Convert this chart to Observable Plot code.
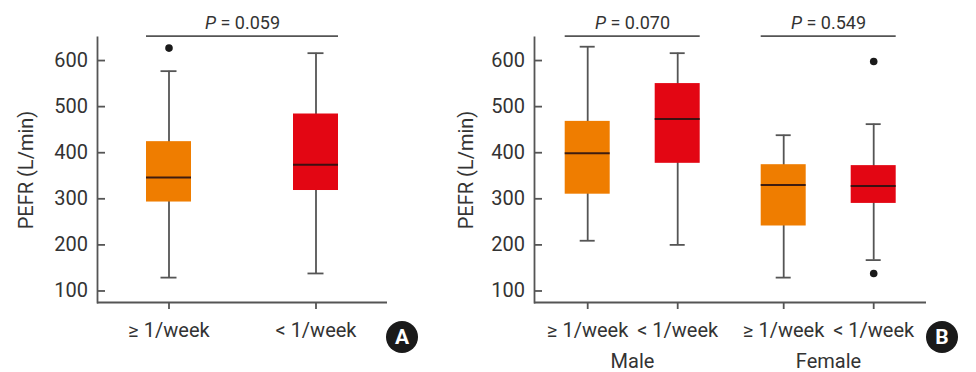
<!DOCTYPE html>
<html><head><meta charset="utf-8">
<script src="https://cdn.jsdelivr.net/npm/d3@7"></script>
<script src="https://cdn.jsdelivr.net/npm/@observablehq/plot@0.6"></script>
<style>
body{margin:0;background:#fff;font-family:Roboto,sans-serif;}
#wrap{position:relative;width:976px;height:372px;overflow:hidden;background:#fff;}
#wrap svg{position:absolute;top:0;}
.badge{position:absolute;width:32px;height:32px;border-radius:50%;background:#1a1a1a;color:#fff;font:700 21px Roboto,sans-serif;display:flex;align-items:center;justify-content:center;}
</style></head><body><div id="wrap"></div>
<script>
// ---- data ----
const freq = ["≥ 1/week", "< 1/week"];
const sexes = ["Male", "Female"];
const yTicks = [100, 200, 300, 400, 500, 600];

// Panel A (all subjects)
const aFreq = ["≥ 1/week", "< 1/week"];
const aLow  = [129, 138];
const aQ1   = [293, 318];
const aMed  = [346, 374];
const aQ3   = [424, 484];
const aHigh = [577, 616];
const aOutFreq = ["≥ 1/week"];
const aOutVal  = [627];
const aP = ["0.059"];

// Panel B (by sex)
const bSex  = ["Male", "Male", "Female", "Female"];
const bFreq = ["≥ 1/week", "< 1/week", "≥ 1/week", "< 1/week"];
const bLow  = [209, 200, 129, 167];
const bQ1   = [310, 377, 241, 290];
const bMed  = [399, 473, 330, 328];
const bQ3   = [468, 550, 374, 372];
const bHigh = [630, 616, 438, 462];
const bOutSex  = ["Female", "Female"];
const bOutFreq = ["< 1/week", "< 1/week"];
const bOutVal  = [598, 138];
const bPSex = ["Male", "Female"];
const bP = ["0.070", "0.549"];

const bracketLevel = 653;
const pLabelLevel = 681;
const yDomain = [75, 650];

// ---- tables ----
const rowsA = aFreq.map((f, i) => ({freq: f, lo: aLow[i], q1: aQ1[i], med: aMed[i], q3: aQ3[i], hi: aHigh[i]}));
const outA = aOutFreq.map((f, i) => ({freq: f, v: aOutVal[i]}));
const brA = aP.map(p => ({x1: freq[0], x2: freq[1], p}));
const rowsB = bFreq.map((f, i) => ({sex: bSex[i], freq: f, lo: bLow[i], q1: bQ1[i], med: bMed[i], q3: bQ3[i], hi: bHigh[i]}));
const outB = bOutFreq.map((f, i) => ({sex: bOutSex[i], freq: f, v: bOutVal[i]}));
const brB = bP.map((p, i) => ({sex: bPSex[i], x1: freq[0], x2: freq[1], p}));

const AX = "#555";
function marks(rows, outs, brs, fx, capInset, labelOffset) {
  const o = fx ? {fx: "sex"} : {};
  return [
    Plot.frame({anchor: "left", stroke: AX, strokeWidth: 1.8, facetAnchor: "left"}),
    Plot.ruleY([yDomain[0]], {stroke: AX, strokeWidth: 1.8}),
    Plot.axisY(yTicks, {tickSize: 8, dx: 8, fill: "none", stroke: AX, strokeWidth: 1.8, label: null}),
    Plot.axisY(yTicks, {tickSize: 0, tickPadding: 9.4, label: "PEFR (L/min)", labelAnchor: "center", labelArrow: "none", labelOffset}),
    Plot.axisX({tickSize: 7, tickPadding: 13, stroke: AX, strokeWidth: 1.8, label: null}),
    ...(fx ? [Plot.axisFx({anchor: "bottom", tickSize: 0, tickPadding: 51, label: null})] : []),
    Plot.ruleX(rows, {x: "freq", y1: "lo", y2: "hi", stroke: AX, strokeWidth: 1.8, ...o}),
    Plot.tickY(rows, {x: "freq", y: "lo", stroke: AX, strokeWidth: 1.8, insetLeft: capInset, insetRight: capInset, ...o}),
    Plot.tickY(rows, {x: "freq", y: "hi", stroke: AX, strokeWidth: 1.8, insetLeft: capInset, insetRight: capInset, ...o}),
    Plot.barY(rows, {x: "freq", y1: "q1", y2: "q3", fill: "freq", ...o}),
    Plot.tickY(rows, {x: "freq", y: "med", stroke: "#2a1212", strokeOpacity: 0.9, strokeWidth: 2, ...o}),
    Plot.dot(outs, {x: "freq", y: "v", r: 3.8, fill: "#1a1a1a", ...o}),
    Plot.ruleY(brs, {x1: "x1", x2: "x2", y: () => bracketLevel, stroke: AX, strokeWidth: 1.8, ...o}),
    Plot.text(brs, {y: () => pLabelLevel, frameAnchor: "middle", text: d => "P = " + d.p, fontSize: 18, ...o})
  ];
}

const common = {
  height: 372,
  marginTop: 37,
  marginBottom: 70,
  y: {domain: yDomain},
  color: {domain: freq, range: ["#EF7D00", "#E30613"]},
  style: {fontSize: "20px", fontFamily: "Roboto, sans-serif", color: "#333", background: "transparent", overflow: "visible"}
};

const plotA = Plot.plot({
  ...common,
  width: 420,
  marginLeft: 97,
  marginRight: 33,
  x: {domain: freq, paddingInner: 0.6945, paddingOuter: 0.329},
  marks: marks(rowsA, outA, brA, false, 14.5, 79)
});

const plotB = Plot.plot({
  ...common,
  width: 556,
  marginLeft: 113.3,
  marginRight: 49.3,
  fx: {domain: sexes, padding: 0},
  x: {domain: freq, paddingInner: 0.498, paddingOuter: 0.327},
  marks: marks(rowsB, outB, brB, true, 15, 76)
});

function italicP(svg) {
  const ns = "http://www.w3.org/2000/svg";
  svg.querySelectorAll("text").forEach(t => {
    const s = t.textContent;
    if (s.startsWith("P = ")) {
      t.textContent = "";
      const a = document.createElementNS(ns, "tspan");
      a.setAttribute("font-style", "italic");
      a.textContent = "P";
      const b = document.createElementNS(ns, "tspan");
      b.textContent = s.slice(1);
      t.append(a, b);
    }
  });
}
italicP(plotA); italicP(plotB);

const wrap = document.getElementById("wrap");
plotA.style.left = "0px";
plotB.style.left = "420px";
wrap.append(plotA, plotB);

function badge(letter, cx, cy) {
  const d = document.createElement("div");
  d.className = "badge";
  d.textContent = letter;
  d.style.left = (cx - 16) + "px";
  d.style.top = (cy - 16) + "px";
  wrap.append(d);
}
badge("A", 402, 337);
badge("B", 942, 337);
</script>
</body></html>
